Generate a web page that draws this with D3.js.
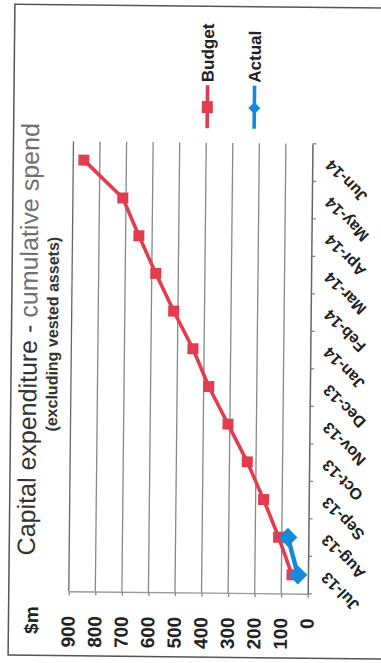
<!DOCTYPE html>
<html>
<head>
<meta charset="utf-8">
<script src="https://cdn.jsdelivr.net/npm/d3@7"></script>
<style>
  body { margin: 0; background: #fff; }
  svg { display: block; }
  text { font-family: "Liberation Sans", Arial, sans-serif; }
</style>
</head>
<body>
<svg id="chart" width="381" height="663"></svg>
<script>
// Cumulative capital expenditure ($m), financial year Jul-13 .. Jun-14
const months = ["Jul-13", "Aug-13", "Sep-13", "Oct-13", "Nov-13", "Dec-13",
                "Jan-14", "Feb-14", "Mar-14", "Apr-14", "May-14", "Jun-14"];
const budget = [60, 112, 170, 233, 307, 381, 442, 516, 585, 650, 712, 860];
const actual = [38, 77];
const valueTicks = [0, 100, 200, 300, 400, 500, 600, 700, 800, 900];
const seriesNames = ["Budget", "Actual"];

const RED = "#e23d4f";
const BLUE = "#168ad9";

const svg = d3.select("#chart");
// the page is laid out sideways, with a slight skew
const g = svg.append("g").attr("transform", "rotate(0.6 190 331)");

// outer frame
g.append("rect")
  .attr("x", 11.5).attr("y", 6)
  .attr("width", 420).attr("height", 651)
  .attr("fill", "none").attr("stroke", "#555").attr("stroke-width", 1.5);

const plot = { left: 71.5, right: 310.5, top: 142.5, bottom: 592.5 };

const x = d3.scaleLinear().domain([0, 900]).range([plot.right, plot.left]);
const y = d3.scaleBand().domain(months).range([plot.bottom, plot.top]);
const yc = m => y(m) + y.bandwidth() / 2;

// value gridlines
g.append("g").selectAll("line")
  .data(valueTicks.filter(v => v > 0))
  .join("line")
  .attr("x1", d => x(d)).attr("x2", d => x(d))
  .attr("y1", plot.top).attr("y2", plot.bottom)
  .attr("stroke", d => d === 900 ? "#666" : "#888")
  .attr("stroke-width", 1.3);

// value axis
const vAxis = g.append("g")
  .attr("transform", `translate(0,${plot.bottom})`)
  .call(d3.axisBottom(x).tickValues(valueTicks).tickSize(4).tickSizeOuter(0).tickFormat(d3.format("d")));
vAxis.attr("font-family", null).attr("font-size", null);
vAxis.select(".domain").attr("stroke", "#9a9a9a").attr("stroke-width", 1.3);
vAxis.selectAll(".tick line").attr("stroke", "#888").attr("stroke-width", 1.3);
vAxis.selectAll(".tick text")
  .attr("x", 0).attr("y", 0).attr("dy", "0.3em")
  .attr("transform", "translate(0,24.5) rotate(-90)")
  .attr("text-anchor", "end")
  .attr("font-size", 19).attr("font-weight", "bold").attr("fill", "#222");

// unit label
g.append("text")
  .attr("transform", `translate(41,608) rotate(-90)`)
  .attr("text-anchor", "end")
  .attr("font-size", 19).attr("font-weight", "bold").attr("fill", "#222")
  .text("$m");

// category axis
const cAxis = g.append("g")
  .attr("transform", `translate(${plot.right},0)`)
  .call(d3.axisRight(y).tickSize(0).tickSizeOuter(0));
cAxis.attr("font-family", null).attr("font-size", null);
cAxis.select(".domain").attr("stroke", "#666").attr("stroke-width", 1.5);
cAxis.selectAll(".tick text")
  .attr("x", 0).attr("y", 0).attr("dy", "0.35em")
  .attr("transform", "translate(16,0) rotate(-135)")
  .attr("text-anchor", "end")
  .attr("font-size", 16).attr("font-weight", "bold").attr("fill", "#222");
// tick marks between categories
const bounds = months.map(m => y(m)).concat([y(months[0]) + y.bandwidth()]);
g.append("g").selectAll("line")
  .data(bounds)
  .join("line")
  .attr("x1", plot.right).attr("x2", plot.right + 4)
  .attr("y1", d => d).attr("y2", d => d)
  .attr("stroke", "#777").attr("stroke-width", 1.2);

// budget series
const budgetPts = budget.map((v, i) => [x(v), yc(months[i])]);
g.append("path")
  .attr("d", d3.line()(budgetPts))
  .attr("fill", "none").attr("stroke", RED).attr("stroke-width", 3.6)
  .attr("stroke-linejoin", "round");
g.append("g").selectAll("rect")
  .data(budgetPts)
  .join("rect")
  .attr("x", d => d[0] - 5.5).attr("y", d => d[1] - 5.5)
  .attr("width", 11).attr("height", 11)
  .attr("fill", RED);

// actual series
const diamond = (cx, cy, r) => `M${cx},${cy - r}L${cx + r},${cy}L${cx},${cy + r}L${cx - r},${cy}Z`;
const actualPts = actual.map((v, i) => [x(v), yc(months[i])]);
g.append("path")
  .attr("d", d3.line()(actualPts))
  .attr("fill", "none").attr("stroke", BLUE).attr("stroke-width", 4.5);
g.append("g").selectAll("path")
  .data(actualPts)
  .join("path")
  .attr("d", d => diamond(d[0], d[1], 9.5))
  .attr("fill", BLUE);

// legend
const legend = g.append("g");
const lgX = [205, 252];
seriesNames.forEach((name, i) => {
  const lx = lgX[i];
  const col = i === 0 ? RED : BLUE;
  legend.append("line")
    .attr("x1", lx).attr("x2", lx).attr("y1", 85).attr("y2", 128)
    .attr("stroke", col).attr("stroke-width", 3.6);
  if (i === 0) {
    legend.append("rect").attr("x", lx - 5.5).attr("y", 101).attr("width", 11).attr("height", 12).attr("fill", col);
  } else {
    legend.append("path").attr("d", diamond(lx, 107.5, 6)).attr("fill", col);
  }
  legend.append("text")
    .attr("transform", `translate(${lx},82) rotate(-90)`)
    .attr("dy", "0.35em")
    .attr("font-size", 17).attr("font-weight", "bold").attr("fill", "#222")
    .text(name);
});

// title
const title = g.append("text")
  .attr("transform", "translate(37,557) rotate(-90)")
  .attr("font-size", 25).attr("fill", "#333");
title.append("tspan").text("Capital expenditure - ");
title.append("tspan").attr("fill", "#707070").text("cumulative spend");

g.append("text")
  .attr("transform", "translate(58,433) rotate(-90)")
  .attr("font-size", 16).attr("font-weight", "bold").attr("fill", "#333")
  .text("(excluding vested assets)");
</script>
</body>
</html>
